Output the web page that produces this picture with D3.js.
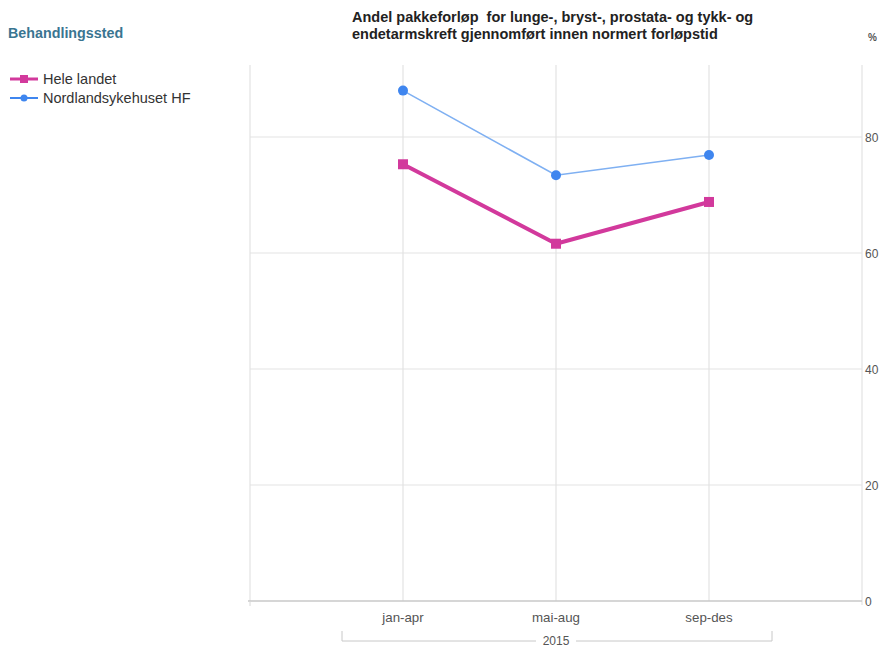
<!DOCTYPE html>
<html><head><meta charset="utf-8">
<script src="https://cdn.jsdelivr.net/npm/d3@7"></script>
<style>body{margin:0;background:#fff;}svg{display:block;font-family:"Liberation Sans",Arial,sans-serif;}</style>
</head><body><svg id="c" width="879" height="647"></svg>
<script>
const categories = ["jan-apr", "mai-aug", "sep-des"];
const seriesNames = ["Hele landet", "Nordlandsykehuset HF"];
const heleLandet = [75.3, 61.6, 68.8];
const nordland = [88.0, 73.4, 76.9];
const yTicks = [0, 20, 40, 60, 80];
const groupLabel = "2015";
const colors = ["#d2399c", "#3f86ef"];

const svg = d3.select("#c");
const x = d3.scaleLinear().domain([0, 4]).range([250, 862]);
const y = d3.scaleLinear().domain([0, 80]).range([601, 137]);
const yTop = 65;

// grid
svg.append("g").selectAll("line").data(yTicks.filter(d => d > 0)).join("line")
  .attr("x1", x(0)).attr("x2", x(4)).attr("y1", d => y(d)).attr("y2", d => y(d))
  .attr("stroke", "#e3e3e3").attr("stroke-width", 1.2);
svg.append("g").selectAll("line").data([0, 1, 2, 3]).join("line")
  .attr("x1", d => x(d)).attr("x2", d => x(d)).attr("y1", yTop).attr("y2", y(0))
  .attr("stroke", "#e3e3e3").attr("stroke-width", 1.2);
svg.append("line").attr("x1", x(4)).attr("x2", x(4)).attr("y1", yTop).attr("y2", y(0)+4)
  .attr("stroke", "#e3e3e3").attr("stroke-width", 1.2);
svg.append("line").attr("x1", x(0)-2).attr("x2", x(4)).attr("y1", y(0)).attr("y2", y(0))
  .attr("stroke", "#c8c8c8").attr("stroke-width", 1.5);
svg.append("line").attr("x1", x(0)).attr("x2", x(0)).attr("y1", y(0)).attr("y2", y(0)+5)
  .attr("stroke", "#d8d8d8");

// y labels
svg.append("g").selectAll("text").data(yTicks).join("text")
  .attr("x", 865).attr("y", d => y(d) + 5).text(d => d)
  .attr("font-size", 12).attr("fill", "#555");
svg.append("text").attr("x", 868).attr("y", 41).text("%").attr("font-size", 10).attr("fill", "#555").attr("font-weight", "bold");

// x labels
svg.append("g").selectAll("text").data(categories).join("text")
  .attr("x", (d, i) => x(i + 1)).attr("y", 622).attr("text-anchor", "middle")
  .text(d => d).attr("font-size", 13.3).attr("fill", "#555");
const bx0 = 342, bx1 = 772, by = 641;
svg.append("path").attr("d", `M${bx0},${by-10}V${by}H${x(2)-20}M${x(2)+20},${by}H${bx1}V${by-10}`)
  .attr("fill", "none").attr("stroke", "#c8c8c8").attr("stroke-width", 1);
svg.append("text").attr("x", x(2)).attr("y", 645).attr("text-anchor", "middle")
  .text(groupLabel).attr("font-size", 12).attr("fill", "#555");

// lines
const line = d3.line().x((d, i) => x(i + 1)).y(d => y(d));
svg.append("path").datum(nordland).attr("d", line).attr("fill", "none")
  .attr("stroke", "#7fb0f2").attr("stroke-width", 1.6);
svg.append("g").selectAll("circle").data(nordland).join("circle")
  .attr("cx", (d, i) => x(i + 1)).attr("cy", d => y(d)).attr("r", 5).attr("fill", colors[1]);
svg.append("path").datum(heleLandet).attr("d", line).attr("fill", "none")
  .attr("stroke", colors[0]).attr("stroke-width", 4).attr("stroke-linejoin", "round");
svg.append("g").selectAll("rect").data(heleLandet).join("rect")
  .attr("x", (d, i) => x(i + 1) - 5).attr("y", d => y(d) - 5).attr("width", 10).attr("height", 10).attr("fill", colors[0]);

// titles
svg.append("text").attr("x", 8).attr("y", 38).text("Behandlingssted")
  .attr("font-size", 14.3).attr("font-weight", "bold").attr("fill", "#3a7591");
const t = svg.append("text").attr("font-size", 14.5).attr("font-weight", "bold").attr("fill", "#222")
  .attr("xml:space", "preserve").style("white-space", "pre");
t.append("tspan").attr("x", 352).attr("y", 22).text("Andel pakkeforløp  for lunge-, bryst-, prostata- og tykk- og");
t.append("tspan").attr("x", 352).attr("y", 39).text("endetarmskreft gjennomført innen normert forløpstid");

// legend
const lg = svg.append("g").selectAll("g").data(seriesNames).join("g")
  .attr("transform", (d, i) => `translate(10,${79 + i * 19})`);
lg.append("line").attr("x1", 0).attr("x2", 28).attr("y1", 0).attr("y2", 0)
  .attr("stroke", (d, i) => colors[i]).attr("stroke-width", (d, i) => i === 0 ? 3 : 2);
lg.filter((d, i) => i === 0).append("rect").attr("x", 10).attr("y", -4).attr("width", 8).attr("height", 8).attr("fill", colors[0]);
lg.filter((d, i) => i === 1).append("circle").attr("cx", 14).attr("cy", 0).attr("r", 3.5).attr("fill", colors[1]);
lg.append("text").attr("x", 33).attr("y", 5).text(d => d).attr("font-size", 14.5).attr("fill", "#333");
</script></body></html>
